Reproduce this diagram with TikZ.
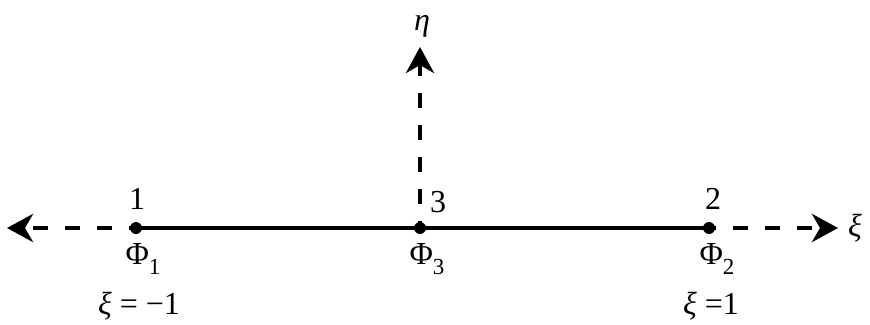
\documentclass[tikz,border=0pt]{standalone}
\usepackage{fontspec}
\setmainfont{Liberation Serif}
\usetikzlibrary{arrows.meta}
\newcommand{\sbx}[1]{\raisebox{-0.3em}{\fontsize{23}{23}\selectfont #1}}
\tikzset{
  every node/.style={font=\fontsize{32}{34}\selectfont, inner sep=0pt},
  axisline/.style={line width=4.5pt, dash pattern=on 15pt off 17pt, dash phase=8pt,
     -{Stealth[length=26pt,width=28pt,inset=8pt]}},
  solidline/.style={line width=4pt},
  dotnode/.style={circle, fill=black, minimum size=12pt, inner sep=0pt}
}
\begin{document}
\begin{tikzpicture}[x=1pt,y=-1pt]
\useasboundingbox (0,0) rectangle (870,324);
\node[dotnode] (n1) at (136,228) {};
\node[dotnode] (n3) at (420,228) {};
\node[dotnode] (n2) at (709,228) {};
\coordinate (lt) at (7,228);
\coordinate (rt) at (838,228);
\coordinate (ut) at (420,47);
\draw[solidline] (n1.center) -- (n3.center) -- (n2.center);
\draw[axisline] (n1.center) -- (lt);
\draw[axisline] (n2.center) -- (rt);
\draw[axisline] (n3.center) -- (ut);
\node (l1) at (137,199) {1};
\node (l3) at (438,202) {3};
\node (l2) at (713,199) {2};
\node (f1) at (143,259) {Φ\sbx{1}};
\node (f3) at (427,259) {Φ\sbx{3}};
\node (f2) at (717,259) {Φ\sbx{2}};
\node (x1) at (139,306) {\textit{ξ} = −1};
\node (x2) at (711,306) {\textit{ξ} =1};
\node (eta) at (422,26) {\textit{η}};
\node[anchor=west] (xi) at (848,228) {\textit{ξ}};
\end{tikzpicture}
\end{document}
